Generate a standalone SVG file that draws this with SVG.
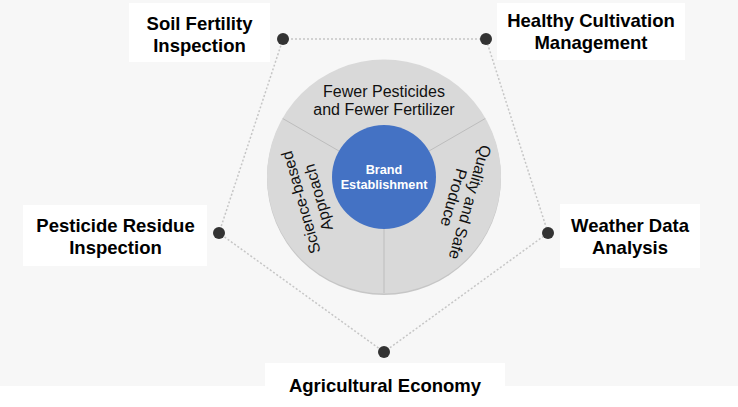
<svg xmlns="http://www.w3.org/2000/svg" width="738" height="407" viewBox="0 0 738 407">
<style>
.box{fill:#ffffff}
.lbl{font-family:"Liberation Sans",Arial,sans-serif;font-weight:bold;font-size:18.5px;fill:#000;text-anchor:middle}
.ring{font-family:"Liberation Sans",Arial,sans-serif;font-size:16px;fill:#111;text-anchor:middle}
.hub{font-family:"Liberation Sans",Arial,sans-serif;font-weight:bold;font-size:12.7px;fill:#fff;text-anchor:middle}
.dot{fill:#333333}
.conn{fill:none;stroke:#c6c6c6;stroke-width:1.5;stroke-dasharray:2 2}
.div{stroke:#bdbdbd;stroke-width:1}
</style>
<rect x="0" y="0" width="738" height="386" fill="#f7f7f7"/>
<g id="connectors">
<polygon class="conn" points="283,39 486,39 548,233 384,352 219,233"/>
</g>
<g id="center">
<circle cx="384" cy="178" r="117" fill="#c6c6c6"/>
<circle cx="384" cy="176.5" r="117" fill="#d9d9d9"/>
<line class="div" x1="384" y1="229" x2="384" y2="293"/>
<line class="div" x1="339" y1="151" x2="282.7" y2="118.5"/>
<line class="div" x1="429" y1="151" x2="485.3" y2="118.5"/>
<circle cx="384" cy="177" r="52" fill="#4472c4"/>
<text class="hub" x="384" y="174">Brand</text>
<text class="hub" x="384" y="188.5">Establishment</text>
<text class="ring" x="384" y="96.5">Fewer Pesticides</text>
<text class="ring" x="384" y="115">and Fewer Fertilizer</text>
<g transform="translate(309.5,200) rotate(-106)">
<text class="ring" x="0" y="-3.4">Science-based</text>
<text class="ring" x="0" y="14.6">Approach</text>
</g>
<g transform="translate(462,200) rotate(106)">
<text class="ring" x="0" y="-2.9">Quality and Safe</text>
<text class="ring" x="0" y="14.1">Produce</text>
</g>
</g>
<g id="soil">
<rect class="box" x="129" y="3" width="141" height="59"/>
<text class="lbl" x="199.5" y="30">Soil Fertility</text>
<text class="lbl" x="199.5" y="52">Inspection</text>
<circle class="dot" cx="283" cy="39" r="6"/>
</g>
<g id="healthy">
<rect class="box" x="497" y="3" width="188" height="57"/>
<text class="lbl" x="591" y="27">Healthy Cultivation</text>
<text class="lbl" x="591" y="49">Management</text>
<circle class="dot" cx="486" cy="39" r="6"/>
</g>
<g id="pesticide">
<rect class="box" x="23" y="205" width="184" height="61"/>
<text class="lbl" x="115.5" y="232">Pesticide Residue</text>
<text class="lbl" x="115.5" y="254">Inspection</text>
<circle class="dot" cx="219" cy="233" r="6"/>
</g>
<g id="weather">
<rect class="box" x="560" y="204" width="140" height="64"/>
<text class="lbl" x="630" y="232">Weather Data</text>
<text class="lbl" x="630" y="254">Analysis</text>
<circle class="dot" cx="548" cy="233" r="6"/>
</g>
<g id="economy">
<rect class="box" x="265" y="363" width="240" height="44"/>
<text class="lbl" x="385" y="392">Agricultural Economy</text>
<circle class="dot" cx="384" cy="352" r="6"/>
</g>
</svg>
